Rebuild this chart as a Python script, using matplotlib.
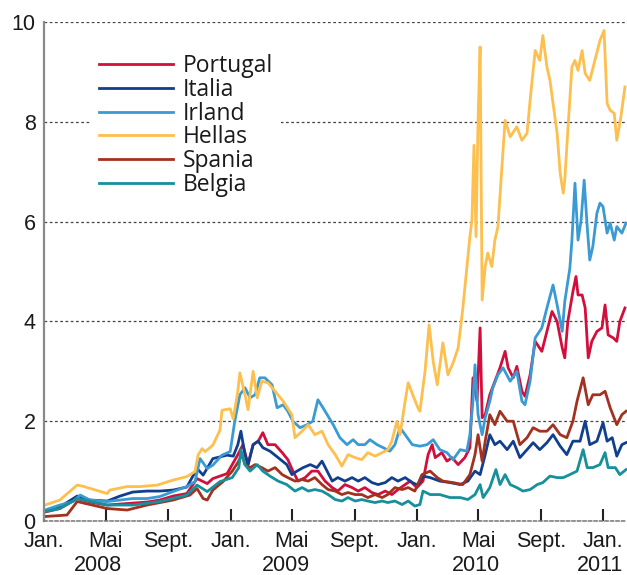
import matplotlib
matplotlib.use("Agg")
import matplotlib.pyplot as plt
import matplotlib.dates as mdates
import pandas as pd

# ---------------- data ----------------
countries = ["Portugal", "Italia", "Irland", "Hellas", "Spania", "Belgia"]
colors = ["#d20f3c", "#113f8e", "#3a9ad4", "#fdbf4d", "#a3311f", "#16909a"]

portugal = [
    ("2008-01-03", 0.18), ("2008-02-01", 0.25), ("2008-03-06", 0.45), ("2008-03-31", 0.38),
    ("2008-05-04", 0.32), ("2008-06-12", 0.35), ("2008-07-21", 0.38), ("2008-08-15", 0.42),
    ("2008-09-10", 0.50), ("2008-10-07", 0.55), ("2008-10-27", 0.85), ("2008-11-16", 0.75),
    ("2008-11-27", 0.85), ("2008-12-25", 0.95), ("2009-01-04", 1.13), ("2009-01-15", 1.33),
    ("2009-01-25", 1.53), ("2009-02-04", 1.13), ("2009-02-14", 1.53), ("2009-02-24", 1.60),
    ("2009-03-05", 1.77), ("2009-03-15", 1.53), ("2009-03-29", 1.53), ("2009-04-12", 1.37),
    ("2009-04-23", 1.23), ("2009-05-03", 1.00), ("2009-05-13", 0.80), ("2009-05-27", 0.87),
    ("2009-06-09", 1.00), ("2009-06-21", 1.00), ("2009-07-05", 0.80), ("2009-07-19", 0.67),
    ("2009-07-30", 0.60), ("2009-08-13", 0.73), ("2009-08-27", 0.67), ("2009-09-08", 0.60),
    ("2009-09-21", 0.67), ("2009-10-05", 0.57), ("2009-10-17", 0.53), ("2009-10-31", 0.60),
    ("2009-11-13", 0.53), ("2009-11-25", 0.63), ("2009-12-09", 0.73), ("2009-12-19", 0.80),
    ("2010-01-01", 0.67), ("2010-01-13", 0.80), ("2010-01-23", 1.33), ("2010-01-31", 1.53),
    ("2010-02-06", 1.27), ("2010-02-19", 1.37), ("2010-03-01", 1.20), ("2010-03-11", 1.27),
    ("2010-03-23", 1.13), ("2010-04-05", 1.27), ("2010-04-15", 1.47), ("2010-04-21", 2.87),
    ("2010-04-29", 2.40), ("2010-05-05", 3.87), ("2010-05-09", 2.07), ("2010-05-15", 2.13),
    ("2010-05-24", 2.53), ("2010-06-03", 2.80), ("2010-06-13", 3.07), ("2010-06-23", 3.40),
    ("2010-06-29", 3.07), ("2010-07-09", 2.87), ("2010-07-16", 3.10), ("2010-07-26", 2.60),
    ("2010-08-01", 2.50), ("2010-08-11", 2.93), ("2010-08-21", 3.60), ("2010-09-03", 3.40),
    ("2010-09-13", 3.80), ("2010-09-23", 4.20), ("2010-10-03", 4.00), ("2010-10-13", 3.47),
    ("2010-10-18", 3.27), ("2010-10-24", 4.00), ("2010-11-03", 4.60), ("2010-11-09", 4.90),
    ("2010-11-13", 4.53), ("2010-11-21", 4.53), ("2010-11-27", 4.27), ("2010-12-03", 3.27),
    ("2010-12-10", 3.60), ("2010-12-20", 3.80), ("2010-12-30", 3.87), ("2011-01-05", 4.33),
    ("2011-01-11", 3.73), ("2011-01-21", 3.67), ("2011-01-28", 3.60), ("2011-02-03", 4.00),
    ("2011-02-13", 4.27),
]

italia = [
    ("2008-01-03", 0.20), ("2008-02-01", 0.28), ("2008-03-06", 0.50), ("2008-03-31", 0.42),
    ("2008-05-04", 0.40), ("2008-05-29", 0.50), ("2008-06-23", 0.58), ("2008-07-21", 0.60),
    ("2008-08-15", 0.60), ("2008-09-10", 0.62), ("2008-10-07", 0.68), ("2008-10-27", 1.05),
    ("2008-11-08", 0.92), ("2008-11-27", 1.25), ("2008-12-25", 1.32), ("2009-01-06", 1.30),
    ("2009-01-15", 1.53), ("2009-01-21", 1.80), ("2009-01-29", 1.33), ("2009-02-04", 1.13),
    ("2009-02-14", 1.53), ("2009-02-24", 1.60), ("2009-03-05", 1.47), ("2009-03-19", 1.40),
    ("2009-04-04", 1.27), ("2009-04-21", 1.13), ("2009-05-01", 0.93), ("2009-05-11", 1.00),
    ("2009-05-23", 1.07), ("2009-06-06", 1.13), ("2009-06-19", 1.07), ("2009-06-29", 1.20),
    ("2009-07-09", 1.00), ("2009-07-19", 0.80), ("2009-07-30", 0.87), ("2009-08-13", 0.80),
    ("2009-08-27", 0.87), ("2009-09-08", 0.80), ("2009-09-21", 0.87), ("2009-10-05", 0.77),
    ("2009-10-17", 0.73), ("2009-10-31", 0.77), ("2009-11-13", 0.87), ("2009-11-25", 0.80),
    ("2009-12-09", 0.87), ("2009-12-23", 0.77), ("2010-01-03", 0.72), ("2010-01-13", 0.90),
    ("2010-01-27", 0.87), ("2010-02-15", 0.80), ("2010-03-07", 0.77), ("2010-03-27", 0.73),
    ("2010-04-11", 0.80), ("2010-04-25", 1.00), ("2010-05-05", 0.93), ("2010-05-15", 1.33),
    ("2010-05-24", 1.73), ("2010-06-03", 1.53), ("2010-06-13", 1.60), ("2010-06-27", 1.43),
    ("2010-07-09", 1.60), ("2010-07-22", 1.27), ("2010-08-05", 1.43), ("2010-08-17", 1.57),
    ("2010-08-30", 1.43), ("2010-09-13", 1.57), ("2010-09-25", 1.73), ("2010-10-09", 1.50),
    ("2010-10-22", 1.33), ("2010-11-03", 1.60), ("2010-11-17", 1.60), ("2010-11-27", 2.00),
    ("2010-12-06", 1.53), ("2010-12-20", 1.60), ("2011-01-01", 1.97), ("2011-01-09", 1.60),
    ("2011-01-19", 1.67), ("2011-01-28", 1.30), ("2011-02-07", 1.53), ("2011-02-15", 1.57),
]

irland = [
    ("2008-01-03", 0.22), ("2008-02-01", 0.32), ("2008-02-27", 0.39), ("2008-03-12", 0.52),
    ("2008-03-31", 0.42), ("2008-05-04", 0.39), ("2008-05-29", 0.42), ("2008-06-23", 0.45),
    ("2008-07-21", 0.45), ("2008-08-15", 0.49), ("2008-09-10", 0.59), ("2008-10-07", 0.69),
    ("2008-10-23", 0.79), ("2008-11-02", 1.25), ("2008-11-16", 1.05), ("2008-11-27", 1.12),
    ("2008-12-15", 1.32), ("2008-12-31", 1.39), ("2009-01-09", 2.00), ("2009-01-19", 2.53),
    ("2009-01-29", 2.67), ("2009-02-08", 2.47), ("2009-02-18", 2.53), ("2009-02-27", 2.87),
    ("2009-03-09", 2.87), ("2009-03-23", 2.73), ("2009-04-02", 2.27), ("2009-04-14", 2.33),
    ("2009-04-23", 2.20), ("2009-05-03", 2.00), ("2009-05-17", 1.87), ("2009-05-31", 1.93),
    ("2009-06-11", 2.00), ("2009-06-21", 2.43), ("2009-07-01", 2.27), ("2009-07-11", 2.10),
    ("2009-07-21", 1.93), ("2009-08-03", 1.67), ("2009-08-17", 1.53), ("2009-08-29", 1.63),
    ("2009-09-08", 1.53), ("2009-09-21", 1.53), ("2009-10-01", 1.63), ("2009-10-15", 1.53),
    ("2009-10-27", 1.47), ("2009-11-09", 1.40), ("2009-11-19", 1.53), ("2009-11-29", 1.87),
    ("2009-12-09", 1.73), ("2009-12-23", 1.53), ("2010-01-07", 1.50), ("2010-01-21", 1.53),
    ("2010-02-02", 1.63), ("2010-02-15", 1.43), ("2010-03-01", 1.37), ("2010-03-13", 1.23),
    ("2010-03-27", 1.43), ("2010-04-09", 1.40), ("2010-04-15", 1.73), ("2010-04-21", 2.40),
    ("2010-04-25", 3.13), ("2010-05-01", 2.13), ("2010-05-09", 1.73), ("2010-05-15", 2.07),
    ("2010-05-24", 2.40), ("2010-05-30", 2.67), ("2010-06-09", 2.93), ("2010-06-19", 3.07),
    ("2010-07-03", 2.80), ("2010-07-16", 3.00), ("2010-07-26", 2.40), ("2010-08-01", 2.33),
    ("2010-08-11", 2.80), ("2010-08-21", 3.67), ("2010-09-03", 3.87), ("2010-09-13", 4.27),
    ("2010-09-25", 4.73), ("2010-10-03", 4.33), ("2010-10-13", 3.80), ("2010-10-18", 4.40),
    ("2010-10-28", 5.07), ("2010-11-01", 5.63), ("2010-11-07", 6.77), ("2010-11-13", 5.63),
    ("2010-11-19", 6.03), ("2010-11-25", 6.83), ("2010-12-01", 5.90), ("2010-12-06", 5.23),
    ("2010-12-12", 5.50), ("2010-12-20", 6.17), ("2010-12-26", 6.37), ("2011-01-01", 6.30),
    ("2011-01-09", 5.77), ("2011-01-15", 5.97), ("2011-01-23", 5.63), ("2011-01-28", 5.90),
    ("2011-02-07", 5.77), ("2011-02-15", 5.97),
]

hellas = [
    ("2008-01-03", 0.32), ("2008-02-01", 0.42), ("2008-03-06", 0.72), ("2008-03-16", 0.70),
    ("2008-05-04", 0.55), ("2008-05-09", 0.62), ("2008-06-12", 0.69), ("2008-07-07", 0.69),
    ("2008-08-10", 0.72), ("2008-09-10", 0.82), ("2008-10-07", 0.89), ("2008-10-23", 0.99),
    ("2008-10-29", 1.32), ("2008-11-06", 1.45), ("2008-11-12", 1.39), ("2008-11-27", 1.52),
    ("2008-12-11", 1.82), ("2008-12-15", 2.22), ("2008-12-31", 2.25), ("2009-01-06", 2.05),
    ("2009-01-15", 2.60), ("2009-01-19", 2.97), ("2009-01-29", 2.53), ("2009-02-04", 2.23),
    ("2009-02-14", 3.00), ("2009-02-22", 2.47), ("2009-03-03", 2.80), ("2009-03-15", 2.77),
    ("2009-03-29", 2.60), ("2009-04-14", 2.40), ("2009-05-01", 2.13), ("2009-05-07", 1.67),
    ("2009-05-21", 1.80), ("2009-06-02", 1.93), ("2009-06-15", 1.73), ("2009-06-29", 1.80),
    ("2009-07-11", 1.53), ("2009-07-25", 1.33), ("2009-08-07", 1.10), ("2009-08-19", 1.33),
    ("2009-09-02", 1.27), ("2009-09-15", 1.23), ("2009-09-27", 1.37), ("2009-10-11", 1.30),
    ("2009-10-25", 1.37), ("2009-11-05", 1.43), ("2009-11-13", 1.60), ("2009-11-23", 2.00),
    ("2009-11-29", 1.73), ("2009-12-09", 2.40), ("2009-12-15", 2.77), ("2009-12-24", 2.53),
    ("2010-01-03", 2.27), ("2010-01-07", 2.20), ("2010-01-17", 3.00), ("2010-01-25", 3.93),
    ("2010-02-02", 3.20), ("2010-02-10", 2.73), ("2010-02-21", 3.57), ("2010-03-03", 2.93),
    ("2010-03-13", 3.17), ("2010-03-23", 3.47), ("2010-04-01", 4.25), ("2010-04-15", 5.70),
    ("2010-04-19", 6.03), ("2010-04-23", 7.53), ("2010-04-27", 5.70), ("2010-05-01", 8.03),
    ("2010-05-05", 9.50), ("2010-05-09", 4.43), ("2010-05-15", 5.10), ("2010-05-20", 5.37),
    ("2010-05-28", 5.10), ("2010-06-03", 5.63), ("2010-06-09", 5.90), ("2010-06-15", 6.83),
    ("2010-06-23", 8.03), ("2010-07-03", 7.70), ("2010-07-16", 7.90), ("2010-07-26", 7.63),
    ("2010-08-05", 7.77), ("2010-08-11", 8.43), ("2010-08-21", 9.43), ("2010-08-30", 9.23),
    ("2010-09-05", 9.73), ("2010-09-13", 9.10), ("2010-09-19", 8.83), ("2010-09-25", 8.37),
    ("2010-10-03", 7.77), ("2010-10-09", 6.97), ("2010-10-15", 6.57), ("2010-10-18", 6.83),
    ("2010-10-24", 7.83), ("2010-11-01", 9.10), ("2010-11-07", 9.23), ("2010-11-13", 9.03),
    ("2010-11-21", 9.43), ("2010-11-27", 8.97), ("2010-12-06", 8.83), ("2010-12-16", 9.23),
    ("2010-12-26", 9.63), ("2011-01-03", 9.83), ("2011-01-09", 8.37), ("2011-01-15", 8.23),
    ("2011-01-23", 8.17), ("2011-01-28", 7.63), ("2011-02-05", 8.10), ("2011-02-13", 8.70),
]

spania = [
    ("2008-01-03", 0.09), ("2008-02-15", 0.12), ("2008-03-06", 0.39), ("2008-05-04", 0.25),
    ("2008-06-12", 0.22), ("2008-07-21", 0.32), ("2008-09-10", 0.42), ("2008-10-13", 0.52),
    ("2008-10-27", 0.65), ("2008-11-08", 0.45), ("2008-11-16", 0.42), ("2008-11-27", 0.62),
    ("2008-12-17", 0.79), ("2009-01-04", 1.00), ("2009-01-15", 1.17), ("2009-01-23", 1.33),
    ("2009-01-29", 1.13), ("2009-02-08", 1.07), ("2009-02-18", 1.13), ("2009-03-03", 1.07),
    ("2009-03-15", 1.00), ("2009-03-29", 1.07), ("2009-04-12", 0.93), ("2009-04-23", 0.87),
    ("2009-05-07", 0.80), ("2009-05-21", 0.83), ("2009-06-02", 0.80), ("2009-06-15", 0.87),
    ("2009-06-29", 0.73), ("2009-07-11", 0.63), ("2009-07-25", 0.60), ("2009-08-07", 0.53),
    ("2009-08-19", 0.57), ("2009-09-02", 0.53), ("2009-09-15", 0.53), ("2009-09-27", 0.47),
    ("2009-10-11", 0.53), ("2009-10-25", 0.47), ("2009-11-05", 0.53), ("2009-11-19", 0.67),
    ("2009-12-03", 0.63), ("2009-12-15", 0.67), ("2009-12-28", 0.60), ("2010-01-11", 0.93),
    ("2010-01-27", 1.00), ("2010-02-10", 0.87), ("2010-02-21", 0.80), ("2010-03-13", 0.77),
    ("2010-04-01", 0.73), ("2010-04-15", 0.93), ("2010-04-25", 1.33), ("2010-05-01", 1.73),
    ("2010-05-09", 1.20), ("2010-05-15", 1.60), ("2010-05-24", 2.13), ("2010-06-03", 1.93),
    ("2010-06-13", 2.20), ("2010-06-27", 2.00), ("2010-07-09", 2.00), ("2010-07-22", 1.53),
    ("2010-08-05", 1.67), ("2010-08-17", 1.87), ("2010-08-30", 1.80), ("2010-09-13", 1.80),
    ("2010-09-25", 1.93), ("2010-10-09", 1.73), ("2010-10-22", 1.67), ("2010-11-03", 2.00),
    ("2010-11-11", 2.40), ("2010-11-23", 2.87), ("2010-12-03", 2.33), ("2010-12-12", 2.53),
    ("2010-12-26", 2.53), ("2011-01-05", 2.60), ("2011-01-15", 2.27), ("2011-01-28", 1.93),
    ("2011-02-07", 2.13), ("2011-02-15", 2.20),
]

belgia = [
    ("2008-01-03", 0.19), ("2008-02-01", 0.25), ("2008-03-06", 0.45), ("2008-05-04", 0.32),
    ("2008-06-23", 0.32), ("2008-08-15", 0.39), ("2008-10-07", 0.52), ("2008-10-27", 0.72),
    ("2008-11-16", 0.59), ("2008-12-11", 0.79), ("2009-01-04", 0.87), ("2009-01-17", 1.07),
    ("2009-01-21", 1.43), ("2009-01-29", 1.13), ("2009-02-08", 1.00), ("2009-02-22", 1.13),
    ("2009-03-05", 1.00), ("2009-03-19", 0.90), ("2009-04-04", 0.80), ("2009-04-21", 0.73),
    ("2009-05-07", 0.60), ("2009-05-21", 0.67), ("2009-06-02", 0.60), ("2009-06-15", 0.63),
    ("2009-06-29", 0.60), ("2009-07-11", 0.53), ("2009-07-25", 0.43), ("2009-08-07", 0.40),
    ("2009-08-19", 0.47), ("2009-09-02", 0.40), ("2009-09-15", 0.43), ("2009-09-27", 0.40),
    ("2009-10-11", 0.37), ("2009-10-25", 0.40), ("2009-11-05", 0.37), ("2009-11-19", 0.40),
    ("2009-12-03", 0.33), ("2009-12-15", 0.40), ("2009-12-28", 0.30), ("2010-01-07", 0.33),
    ("2010-01-13", 0.60), ("2010-01-27", 0.53), ("2010-02-15", 0.53), ("2010-03-07", 0.47),
    ("2010-03-27", 0.47), ("2010-04-11", 0.43), ("2010-04-25", 0.53), ("2010-05-05", 0.73),
    ("2010-05-11", 0.47), ("2010-05-24", 0.67), ("2010-06-05", 1.03), ("2010-06-13", 0.73),
    ("2010-06-23", 0.93), ("2010-07-03", 0.73), ("2010-07-16", 0.67), ("2010-07-28", 0.60),
    ("2010-08-11", 0.63), ("2010-08-25", 0.73), ("2010-09-05", 0.77), ("2010-09-19", 0.90),
    ("2010-10-03", 0.87), ("2010-10-15", 0.87), ("2010-10-28", 0.93), ("2010-11-11", 1.00),
    ("2010-11-23", 1.43), ("2010-12-01", 1.07), ("2010-12-12", 1.07), ("2010-12-26", 1.13),
    ("2011-01-05", 1.37), ("2011-01-11", 1.07), ("2011-01-25", 1.07), ("2011-02-03", 0.93),
    ("2011-02-15", 1.03),
]

series = [portugal, italia, irland, hellas, spania, belgia]

month_names = {1: "Jan.", 5: "Mai", 9: "Sept."}
year_labels = ["2008", "2009", "2010", "2011"]
year_label_dates = ["2008-04-15", "2009-04-19", "2010-04-27", "2010-12-27"]
x_range = ("2008-01-01", "2011-02-17")
y_ticks = [0, 2, 4, 6, 8, 10]

# ---------------- drawing ----------------
fig = plt.figure(figsize=(6.27, 5.75), dpi=100)
ax = fig.add_axes([0.0702, 0.0939, 0.9298, 0.8678])

for name, col, s in zip(countries, colors, series):
    d = pd.to_datetime([p[0] for p in s])
    v = [p[1] for p in s]
    ax.plot(d, v, color=col, lw=2.0, label=name, solid_joinstyle="round")

ax.set_xlim(pd.Timestamp(x_range[0]), pd.Timestamp(x_range[1]))
ax.set_ylim(0, 10)
ax.set_yticks(y_ticks)
ax.set_yticklabels([str(t) for t in y_ticks])

ax.yaxis.grid(True, color="#444444", lw=0.9, ls=(0, (2.2, 2.0)))
ax.set_axisbelow(True)

for sp in ["top", "right"]:
    ax.spines[sp].set_visible(False)
ax.spines["left"].set_color("#8a8a8a")
ax.spines["left"].set_linewidth(1.6)
ax.spines["bottom"].set_color("#777777")
ax.spines["bottom"].set_linewidth(1.1)
ax.spines["bottom"].set_linestyle((0, (2.0, 1.6)))

ax.xaxis.set_major_locator(mdates.MonthLocator(bymonth=[1, 5, 9]))
ax.xaxis.set_major_formatter(plt.FuncFormatter(
    lambda x, pos: month_names.get(mdates.num2date(x).month, "")))
ax.set_xticks(pd.to_datetime(year_label_dates), labels=year_labels, minor=True)

tick_font = dict(family=["Liberation Sans", "DejaVu Sans"], size=15.5)
ax.tick_params(axis="x", which="major", direction="in", length=9, width=1.5,
               color="#222222", pad=7.5)
ax.tick_params(axis="x", which="minor", length=0, pad=24.5)
ax.tick_params(axis="y", length=0, pad=6)
for lab in ax.get_xticklabels(which="both") + ax.get_yticklabels():
    lab.set_fontfamily(tick_font["family"])
    lab.set_fontsize(tick_font["size"])
    lab.set_color("#1a1a1a")

leg = ax.legend(loc="upper left", bbox_to_anchor=(0.081, 0.951), borderaxespad=0,
                frameon=True, framealpha=1, facecolor="white", edgecolor="none",
                fancybox=False, handlelength=3.2, handletextpad=0.45,
                labelspacing=-0.015, borderpad=0.35,
                prop=dict(family=["Open Sans", "DejaVu Sans"], size=16.5))
for t in leg.get_texts():
    t.set_color("#1a1a1a")

fig.savefig("out.png", dpi=100)
